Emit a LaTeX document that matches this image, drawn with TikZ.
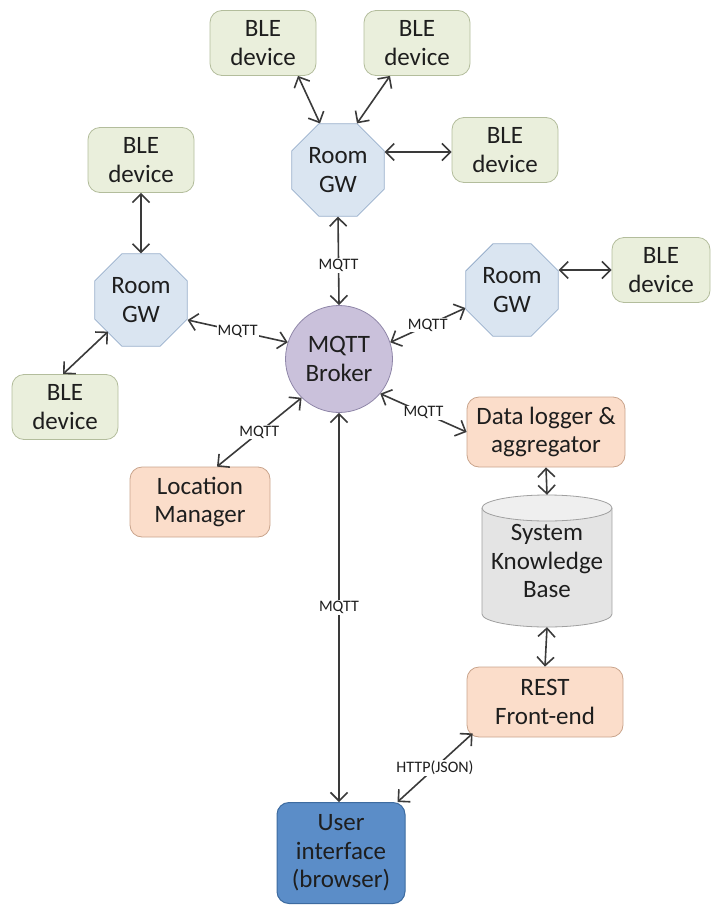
\documentclass[tikz,border=0pt]{standalone}
\usepackage{fontspec}
\setmainfont{Carlito}
\usetikzlibrary{arrows.meta,shapes.geometric}
\definecolor{bleF}{HTML}{EAEFDC}
\definecolor{bleB}{HTML}{B3BD9C}
\definecolor{gwF}{HTML}{DAE5F1}
\definecolor{gwB}{HTML}{98AECB}
\definecolor{brF}{HTML}{CAC1DB}
\definecolor{brB}{HTML}{8F86A8}
\definecolor{orF}{HTML}{FBDDCA}
\definecolor{orB}{HTML}{C9A48C}
\definecolor{kbF}{HTML}{E4E4E4}
\definecolor{kbT}{HTML}{EFEFEF}
\definecolor{kbB}{HTML}{A0A0A0}
\definecolor{uiF}{HTML}{5B8DC8}
\definecolor{uiB}{HTML}{3D6BA0}
\definecolor{arrowc}{HTML}{3A3A3A}
\definecolor{txt}{HTML}{1E1E1E}
\tikzset{
  bigtext/.style={font=\fontsize{25}{28.5}\selectfont, text=txt, align=center},
  blebox/.style={bigtext, draw=bleB, fill=bleF, rounded corners=12pt, minimum width=106pt, minimum height=65pt, line width=0.8pt, inner sep=2pt},
  gwbox/.style={bigtext, regular polygon, regular polygon sides=8, minimum size=100pt, inner sep=0pt, draw=gwB, fill=gwF, line width=0.8pt},
  orbox/.style={bigtext, draw=orB, fill=orF, rounded corners=12pt, minimum height=70pt, line width=0.8pt, inner sep=2pt},
  conn/.style={draw=arrowc, line width=1.6pt, {Straight Barb[length=8.5pt,width=17pt]}-{Straight Barb[length=8.5pt,width=17pt]}},
  lab/.style={fill=white, inner sep=1pt, font=\fontsize{16}{16}\selectfont, text=txt},
}
\begin{document}
\begin{tikzpicture}[x=1pt,y=-1pt]
\useasboundingbox (0,0) rectangle (710,905);
% BLE devices
\node[blebox] (ble1) at (263,43) {BLE\\device};
\node[blebox] (ble2) at (417,43) {BLE\\device};
\node[blebox] (ble3) at (505,150) {BLE\\device};
\node[blebox] (ble4) at (141,160) {BLE\\device};
\node[blebox] (ble5) at (65,407) {BLE\\device};
\node[blebox, minimum width=98pt] (ble6) at (661,270) {BLE\\device};
% gateways
\node[gwbox] (gw1) at (338,170) {Room\\GW};
\node[gwbox] (gw2) at (141,300) {Room\\GW};
\node[gwbox] (gw3) at (512,290) {Room\\GW};
% broker
\node[bigtext, circle, draw=brB, fill=brF, minimum size=107pt, inner sep=0pt, line width=0.8pt] (br) at (339,359) {MQTT\\Broker};
% orange boxes
\node[orbox, minimum width=158pt] (dl) at (546,432) {Data logger \&\\aggregator};
\node[orbox, minimum width=140pt] (loc) at (200,502) {Location\\Manager};
\node[orbox, minimum width=156pt] (rest) at (545,702) {REST\\Front-end};
% knowledge base cylinder
\fill[kbF] (482,508) rectangle (612,614);
\fill[kbF] (547,614) ellipse (65 and 13);
\draw[kbB, line width=0.8pt] (482,508) -- (482,614) arc[start angle=180, end angle=0, x radius=65, y radius=13] -- (612,508);
\draw[kbB, fill=kbT, line width=0.8pt] (547,508) ellipse (65 and 13);
\node[bigtext, minimum width=130pt, minimum height=132pt, inner sep=0pt] (kb) at (547,561) {\raisebox{-7pt}{\parbox{128pt}{\centering System\\Knowledge\\Base}}};
% user interface
\node[bigtext, draw=uiB, fill=uiF, rounded corners=12pt, minimum width=128pt, minimum height=101pt, line width=1pt] (ui) at (341,853) {User\\interface\\(browser)};
% connectors
\draw[conn] ([xshift=-18pt]gw1.north) -- ([xshift=35pt]ble1.south);
\draw[conn] ([xshift=19pt]gw1.north) -- ([xshift=-27pt]ble2.south);
\draw[conn] ([yshift=18pt]gw1.east) -- ([yshift=-2pt]ble3.west);
\draw[conn] (gw1.south) -- node[lab, pos=0.55]{MQTT} (br.north);
\draw[conn] (gw2.north) -- (ble4.south);
\draw[conn] ([xshift=-33pt,yshift=15pt]gw2.south) -- ([xshift=-2pt]ble5.north);
\draw[conn] ([yshift=-20pt]gw2.east) -- node[lab]{MQTT} (br.162);
\draw[conn] ([xshift=17pt]loc.north) -- node[lab]{MQTT} (br.226);
\draw[conn] (br.18) -- node[lab]{MQTT} ([yshift=-18pt]gw3.west);
\draw[conn] ([yshift=20pt]gw3.east) -- (ble6.west);
\draw[conn] (br.320) -- node[lab]{MQTT} (dl.west);
\draw[conn] (dl.south) -- (kb.north);
\draw[conn] (kb.south) -- (rest.north);
\draw[conn] (br.south) -- node[lab]{MQTT} (ui.north -| br.south);
\draw[conn] ([xshift=6pt,yshift=4pt]rest.south west) -- node[lab]{HTTP(JSON)} ([xshift=-8pt]ui.north east);
\end{tikzpicture}
\end{document}
